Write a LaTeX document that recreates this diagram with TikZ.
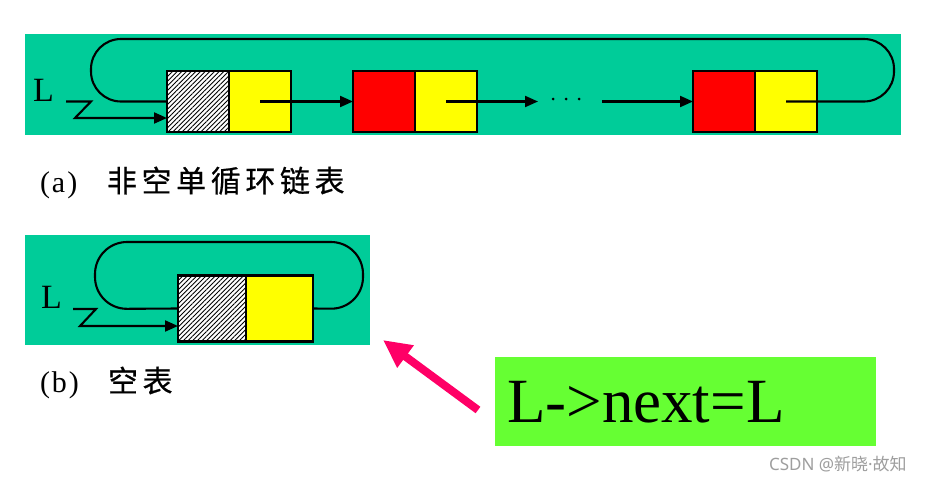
\documentclass[tikz,border=0pt]{standalone}
\usepackage{fontspec}
\setmainfont{Liberation Serif}
\newfontfamily\cjk{Noto Sans CJK SC}
\newfontfamily\cjkcap[FakeBold=0.6]{Noto Sans CJK SC}
\newfontfamily\wmlatin{Noto Sans}
\usetikzlibrary{arrows.meta,patterns.meta}
\definecolor{panelgreen}{RGB}{0,204,153}
\definecolor{labelgreen}{RGB}{102,255,51}
\definecolor{hotpink}{RGB}{255,0,102}
\definecolor{nodered}{RGB}{255,0,0}
\definecolor{nodeyellow}{RGB}{255,255,0}
\newcommand{\chsp}{\hspace{4.6pt}}
\begin{document}
\begin{tikzpicture}[x=1pt,y=-1pt,
  panel/.style={fill=panelgreen, inner sep=0, outer sep=0},
  cell/.style={draw=black, line width=2.2pt, minimum width=62pt, minimum height=61pt, inner sep=0, outer sep=0},
  hatchcell/.style={cell, preaction={fill=white}, pattern={Lines[angle=45,distance=3.3pt,line width=0.9pt]}},
  redcell/.style={cell, fill=nodered},
  yelcell/.style={cell, fill=nodeyellow},
  ptr/.style={line width=2.1pt, black},
  arr/.style={ptr, -{Triangle[length=13pt,width=11pt]}},
  lbl/.style={inner sep=0, outer sep=0, font=\fontsize{34}{34}\selectfont},
  captext/.style={inner sep=0, outer sep=0},
  dotnode/.style={circle, fill=black, inner sep=0, minimum size=3pt}
]
\useasboundingbox (0,0) rectangle (941,482);
\fill[white] (0,0) rectangle (941,482);

% ---- panel (a)
\node[panel, minimum width=876pt, minimum height=101pt] (pa) at (463,84.5) {};
\node[hatchcell] (h1) at (198,101.5) {};
\node[yelcell] (y1) at (260,101.5) {};
\node[redcell] (r2) at (384,101.5) {};
\node[yelcell] (y2) at (446,101.5) {};
\node[redcell] (r3) at (724,101.5) {};
\node[yelcell] (y3) at (786,101.5) {};
\node[dotnode] (d1) at (553,99) {};
\node[dotnode] (d2) at (566,99) {};
\node[dotnode] (d3) at (579,99) {};
\coordinate (s2) at (538,101.5);
\coordinate (s3) at (602,101.5);
\draw[arr] (y1.center) -- (r2.west);
\draw[arr] (y2.center) -- (s2);
\draw[arr] (s3) -- (r3.west);
\draw[ptr, rounded corners=30pt] (y3.center) -- (894,101.5) -- (894,39) -- (91,39) -- (91,101.5) -- (h1.west);
\node[lbl, anchor=base west] (La) at (33,101.7) {L};
\coordinate (za1) at (66,101.5);
\coordinate (za2) at (91,101.5);
\coordinate (za3) at (75,118);
\draw[arr] (za1) -- (za2) -- (za3) -- (za3 -| h1.west);

\node[captext, anchor=base west, font=\fontsize{30}{30}\selectfont] (capa1) at (40,192) {(\hspace{2pt}a\hspace{2pt})};
\node[captext, anchor=base west, font=\cjkcap\fontsize{30}{30}\selectfont] (capa2) at (107,192) {非\chsp 空\chsp 单\chsp 循\chsp 环\chsp 链\chsp 表};

% ---- panel (b)
\node[panel, minimum width=345pt, minimum height=110pt] (pb) at (197.5,290) {};
\node[hatchcell, minimum width=68pt, minimum height=66pt] (h0) at (212,308.5) {};
\node[yelcell, minimum width=67pt, minimum height=66pt] (y0) at (279.5,308.5) {};
\draw[ptr, rounded corners=32pt] (y0.east) -- (363,309) -- (363,242) -- (95,242) -- (95,309) -- (h0.west);
\node[lbl, anchor=base west] (Lb) at (41,308.3) {L};
\coordinate (zb1) at (73,309);
\coordinate (zb2) at (96,309);
\coordinate (zb3) at (80,326);
\draw[arr] (zb1) -- (zb2) -- (zb3) -- (zb3 -| h0.west);

\node[captext, anchor=base west, font=\fontsize{30}{30}\selectfont] (capb1) at (40,392) {(\hspace{2pt}b\hspace{2pt})};
\node[captext, anchor=base west, font=\cjkcap\fontsize{30}{30}\selectfont] (capb2) at (108,392) {空\chsp 表};

% ---- label and pink arrow
\node[fill=labelgreen, minimum width=381pt, minimum height=89pt, inner sep=0, outer sep=0] (note) at (685.5,401.5) {};
\node[captext, anchor=base west, font=\fontsize{63}{63}\selectfont] (notetxt) at (507,422.7) {L->next=L};
\coordinate (ptail) at (478,410);
\coordinate (ptip) at (383,340);
\draw[hotpink, line width=8pt, -{Triangle[length=28pt,width=26pt]}] (ptail) -- (ptip);

% ---- watermark
\node[captext, anchor=west, text=black!38, font=\cjk\fontsize{17}{17}\selectfont] (wm) at (769,464) {{\wmlatin CSDN @}新晓{\wmlatin ·}故知};
\end{tikzpicture}
\end{document}
